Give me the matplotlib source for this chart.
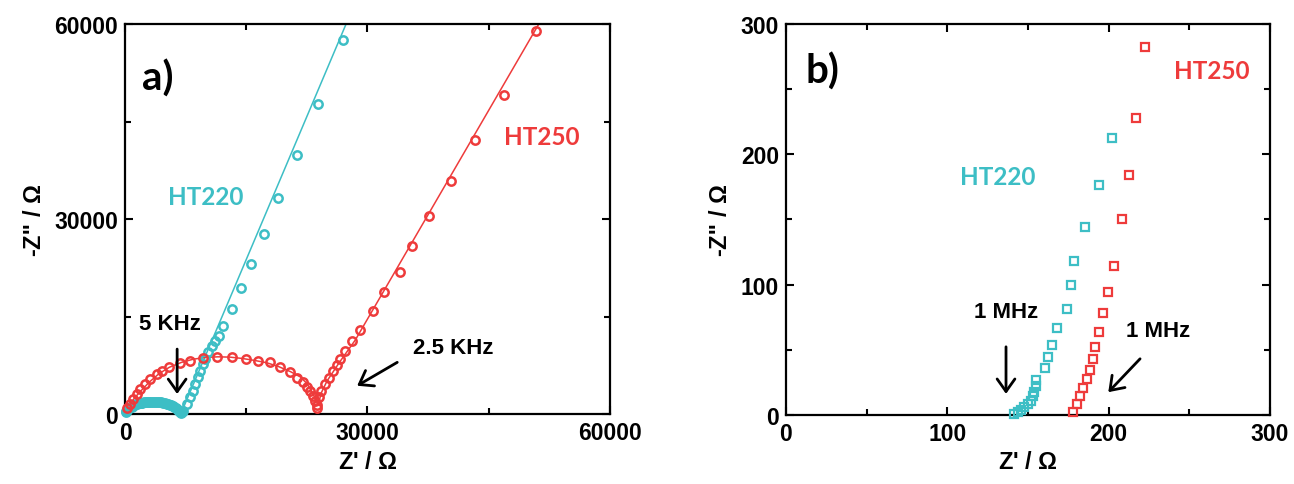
import matplotlib
matplotlib.use("Agg")
import matplotlib.pyplot as plt
from matplotlib.ticker import MultipleLocator

plt.rcParams["font.family"] = ["Liberation Sans", "DejaVu Sans"]
plt.rcParams["font.weight"] = "bold"
plt.rcParams["mathtext.fontset"] = "custom"
plt.rcParams["mathtext.rm"] = "Liberation Sans"

CYAN = "#3dbec5"
RED = "#ee3b3b"
LABEL_FONT = ["Lato", "Liberation Sans"]

# ---- (a) full Nyquist plots: measured points ----
ht220_a_zre = [100, 180, 280, 400, 530, 680, 840, 1000, 1170, 1350, 1540, 1730, 1930, 2140,
               2350, 2570, 2800, 3030, 3260, 3500, 3740, 3980, 4220, 4460, 4700, 4930, 5150,
               5360, 5560, 5750, 5930, 6100, 6260, 6410, 6550, 6680, 6790, 6880,
               7050, 7230, 7650, 8060, 8390, 8680, 9010, 9300, 9630, 9920, 10330, 10750,
               11160, 11570, 12110, 13230, 14290, 15530, 17140, 18930, 21320, 23840, 26990]
ht220_a_zim = [250, 400, 560, 720, 870, 1010, 1140, 1260, 1370, 1470, 1560, 1640, 1710, 1770,
               1820, 1860, 1890, 1910, 1920, 1920, 1910, 1890, 1860, 1820, 1760, 1690, 1610,
               1520, 1420, 1310, 1190, 1060, 920, 780, 630, 480, 330, 180,
               250, 513, 1538, 2564, 3590, 4615, 5641, 6667, 7692, 8462, 9487, 10510,
               11280, 12050, 13580, 16150, 19340, 23080, 27650, 33230, 39850, 47740, 57490]

ht250_a_zre = [300, 600, 1033, 1446, 1860, 2480, 3100, 3926, 4545, 5500, 6820, 8060, 9710,
               11360, 13220, 15000, 16400, 17980, 19220, 20450, 21280, 22030, 22500, 22900,
               23300, 23550, 23700, 23800, 24050, 24300, 24700, 25200, 25750, 26200, 26650,
               27270, 28100, 29130, 30700, 32030, 33970, 35500, 37560, 40380, 43350, 46900,
               50870]
ht250_a_zim = [900, 1600, 2308, 3077, 3846, 4615, 5385, 6154, 6667, 7179, 7846, 8205, 8564,
               8820, 8718, 8462, 8205, 7949, 7300, 6450, 5600, 5000, 4200, 3500,
               2800, 2000, 1400, 1000, 2600, 3500, 4600, 5500, 6600, 7500, 8500,
               9700, 11300, 13000, 15900, 18720, 21800, 25900, 30510, 35850, 42150, 49080,
               58970]

# ---- (a) fitted curves ----
ht220_fit_zre = [0, 400, 1000, 1800, 2700, 3600, 4500, 5300, 6000, 6500, 6950, 27350]
ht220_fit_zim = [0, 650, 1200, 1600, 1850, 1900, 1750, 1450, 1050, 650, 150, 60000]

ht250_fit_zre = [0, 600, 1200, 2000, 3000, 4200, 5500, 7000, 8500, 10000, 11500, 13000,
                 14500, 16000, 17500, 19000, 20500, 21700, 22500, 23200, 23700, 23900,
                 24300, 25000, 26500, 28500, 51100]
ht250_fit_zim = [0, 1500, 2500, 3600, 4900, 6200, 7200, 7950, 8450, 8700, 8800, 8750,
                 8550, 8250, 7900, 7300, 6500, 5700, 4700, 3300, 1900, 1500,
                 3300, 5100, 7900, 11400, 59800]

# ---- (b) high-frequency region ----
ht220_b_zre = [141.6, 143.7, 145.8, 147.8, 149.9, 151.6, 153.0, 154.0, 154.7, 155.1,
               160.4, 162.7, 164.8, 167.9, 173.9, 176.6, 178.5, 185.1, 194.2, 202.1]
ht220_b_zim = [0.8, 2.1, 3.8, 5.9, 8.4, 11.0, 14.3, 17.9, 22.5, 26.9,
               36.3, 44.3, 54.0, 66.5, 81.4, 99.8, 118.0, 144.0, 176.5, 212.6]

ht250_b_zre = [177.8, 180.1, 182.2, 184.3, 186.5, 188.2, 190.1, 191.5, 194.2, 196.5,
               199.8, 203.1, 208.3, 212.6, 217.2, 222.4]
ht250_b_zim = [2.1, 8.2, 14.3, 20.7, 27.6, 34.5, 42.7, 51.9, 63.9, 78.0,
               94.2, 114.1, 150.4, 184.4, 227.9, 282.2]

fig = plt.figure(figsize=(12.94, 4.85), dpi=100)
ax_a = fig.add_axes([0.0966, 0.1443, 0.3748, 0.8041])
ax_b = fig.add_axes([0.6074, 0.1423, 0.3740, 0.8062])

TICK_FS = 16.5
ARROW = dict(arrowstyle="->,head_length=0.45,head_width=0.32", lw=2.0,
             color="black", mutation_scale=20, shrinkA=0, shrinkB=0)


def style_axes(ax, xmax, ymax, xmaj, xmin, ymaj, ymin):
    ax.set_xlim(0, xmax)
    ax.set_ylim(0, ymax)
    ax.xaxis.set_major_locator(MultipleLocator(xmaj))
    ax.xaxis.set_minor_locator(MultipleLocator(xmin))
    ax.yaxis.set_major_locator(MultipleLocator(ymaj))
    ax.yaxis.set_minor_locator(MultipleLocator(ymin))
    ax.tick_params(which="both", direction="in", top=True, right=True, width=1.5,
                   labelsize=TICK_FS)
    ax.tick_params(which="major", length=6, pad=5)
    ax.tick_params(which="minor", length=4)
    for s in ax.spines.values():
        s.set_linewidth(1.6)
    for lab in ax.get_xticklabels() + ax.get_yticklabels():
        lab.set_fontweight("bold")
    ax.set_xlabel(r"Z' / $\mathrm{\Omega}$", fontsize=17, fontweight="bold", labelpad=4)
    ax.set_ylabel(r"-Z'' / $\mathrm{\Omega}$", fontsize=17, fontweight="bold", labelpad=6)


# panel (a)
ax_a.plot(ht220_fit_zre, ht220_fit_zim, color=CYAN, lw=1.1, zorder=2)
ax_a.plot(ht250_fit_zre, ht250_fit_zim, color=RED, lw=1.1, zorder=2)
ax_a.plot(ht220_a_zre, ht220_a_zim, ls="none", marker="o", ms=6, mfc="none",
          mec=CYAN, mew=1.8, zorder=3, clip_on=False)
ax_a.plot(ht250_a_zre, ht250_a_zim, ls="none", marker="o", ms=6, mfc="none",
          mec=RED, mew=1.8, zorder=3, clip_on=False)
style_axes(ax_a, 60000, 60000, 30000, 15000, 30000, 15000)

ax_a.text(4090, 51700, "a)", fontsize=29, fontweight="bold", family=LABEL_FONT,
          ha="center", va="center")
ax_a.text(10040, 33540, "HT220", color=CYAN, fontsize=17.5, fontweight="bold",
          family=LABEL_FONT, ha="center", va="center")
ax_a.text(51570, 42770, "HT250", color=RED, fontsize=17.5, fontweight="bold",
          family=LABEL_FONT, ha="center", va="center")
ax_a.text(5580, 13850, "5 KHz", fontsize=16, fontweight="bold", ha="center", va="center")
ax_a.annotate("", xy=(6450, 3077), xytext=(6450, 9990), arrowprops=ARROW)
ax_a.text(40540, 10310, "2.5 KHz", fontsize=16, fontweight="bold", ha="center", va="center")
ax_a.annotate("", xy=(28720, 4350), xytext=(33680, 7950), arrowprops=ARROW)

# panel (b)
ax_b.plot(ht220_b_zre, ht220_b_zim, ls="none", marker="s", ms=5.5, mfc="none",
          mec=CYAN, mew=1.6, zorder=3, clip_on=False)
ax_b.plot(ht250_b_zre, ht250_b_zim, ls="none", marker="s", ms=5.5, mfc="none",
          mec=RED, mew=1.6, zorder=3, clip_on=False)
style_axes(ax_b, 300, 300, 100, 50, 100, 50)

ax_b.text(22.3, 264, "b)", fontsize=29, fontweight="bold", family=LABEL_FONT,
          ha="center", va="center")
ax_b.text(131.4, 183, "HT220", color=CYAN, fontsize=17.5, fontweight="bold",
          family=LABEL_FONT, ha="center", va="center")
ax_b.text(264.1, 264.6, "HT250", color=RED, fontsize=17.5, fontweight="bold",
          family=LABEL_FONT, ha="center", va="center")
ax_b.text(136.4, 79.2, "1 MHz", fontsize=16, fontweight="bold", ha="center", va="center")
ax_b.annotate("", xy=(136.4, 16.2), xytext=(136.4, 52.3), arrowprops=ARROW)
ax_b.text(230.6, 64.6, "1 MHz", fontsize=16, fontweight="bold", ha="center", va="center")
ax_b.annotate("", xy=(199.8, 17.5), xytext=(219.5, 43.1), arrowprops=ARROW)

fig.savefig("out.png", dpi=100)
